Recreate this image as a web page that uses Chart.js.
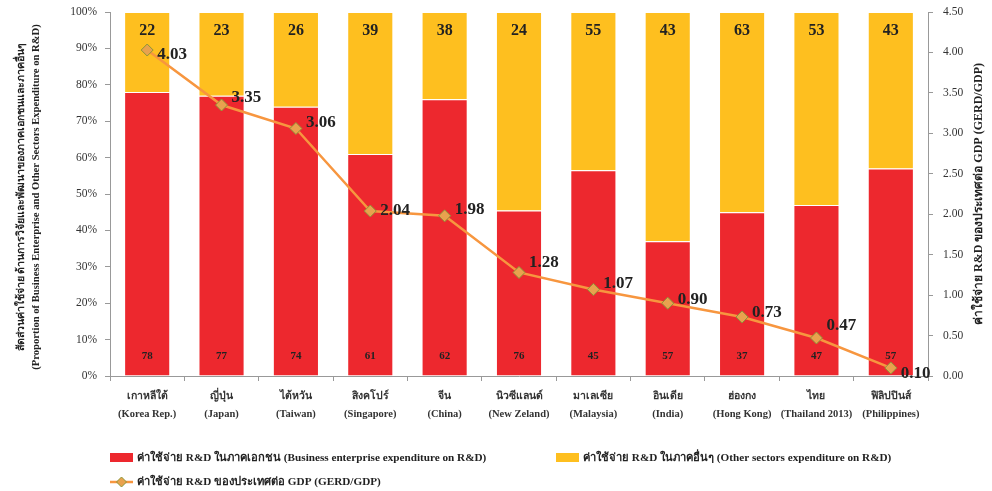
<!DOCTYPE html>
<html>
<head>
<meta charset="utf-8">
<script src="https://cdn.jsdelivr.net/npm/chart.js@4.4.1/dist/chart.umd.min.js"></script>
<style>
  html, body { margin: 0; padding: 0; background: #fff; }
  #wrap { width: 992px; height: 491px; position: relative; }
</style>
</head>
<body>
<div id="wrap"><canvas id="chart" width="992" height="491"></canvas></div>
<script>
// Countries (Thai name + English name on second line)
const countriesTh = ['เกาหลีใต้', 'ญี่ปุ่น', 'ไต้หวัน', 'สิงคโปร์', 'จีน', 'นิวซีแลนด์', 'มาเลเซีย', 'อินเดีย', 'ฮ่องกง', 'ไทย', 'ฟิลิปปินส์'];
const countriesEn = ['(Korea Rep.)', '(Japan)', '(Taiwan)', '(Singapore)', '(China)', '(New Zeland)', '(Malaysia)', '(India)', '(Hong Kong)', '(Thailand 2013)', '(Philippines)'];

// Share of R&D spending (%) - business enterprise vs other sectors
const businessShare = [78, 77, 74, 61, 76, 45.5, 56.5, 37, 45, 47, 57];
const otherShare = [22, 23, 26, 39, 24, 54.5, 43.5, 63, 55, 53, 43];

// Numbers printed on the bars
const businessLabels = [78, 77, 74, 61, 62, 76, 45, 57, 37, 47, 57];
const otherLabels = [22, 23, 26, 39, 38, 24, 55, 43, 63, 53, 43];

// GERD as % of GDP
const gerdGdp = [4.03, 3.35, 3.06, 2.04, 1.98, 1.28, 1.07, 0.90, 0.73, 0.47, 0.10];

// Axis ticks
const pctTicks = [0, 10, 20, 30, 40, 50, 60, 70, 80, 90, 100];
const gdpTicks = [0, 0.5, 1, 1.5, 2, 2.5, 3, 3.5, 4, 4.5];

const SERIF = "'Liberation Serif', 'Times New Roman', 'DejaVu Serif', serif";
const RED = '#ED282E';
const YELLOW = '#FEBF1F';
const ORANGE = '#F7963F';

const leftTitle = ['สัดส่วนค่าใช้จ่าย ด้านการวิจัยและพัฒนาของภาคเอกชนและภาคอื่นๆ',
  '(Proportion of Business Enterprise and Other Sectors Expenditure on R&D)'];
const rightTitle = 'ค่าใช้จ่าย R&D ของประเทศต่อ GDP (GERD/GDP)';
const legendItems = [
  { text: 'ค่าใช้จ่าย R&D ในภาคเอกชน (Business enterprise expenditure on R&D)', kind: 'box', color: RED, x: 110, y: 458 },
  { text: 'ค่าใช้จ่าย R&D ในภาคอื่นๆ (Other sectors expenditure on R&D)', kind: 'box', color: YELLOW, x: 556, y: 458 },
  { text: 'ค่าใช้จ่าย R&D ของประเทศต่อ GDP (GERD/GDP)', kind: 'line', color: ORANGE, x: 110, y: 482 }
];

// small vertical nudges for the GERD value labels
const gerdLabelNudge = [5, -7, -6, 0, -6, -10, -6, -4, -4, -12, 6];

function diamond(ctx, x, y, r) {
  ctx.beginPath();
  ctx.moveTo(x, y - r);
  ctx.lineTo(x + r, y);
  ctx.lineTo(x, y + r);
  ctx.lineTo(x - r, y);
  ctx.closePath();
  ctx.fill();
  ctx.stroke();
}

// vertical axes: fixed width, no extra room above/below the plot
function fixVertical(width) {
  return scale => {
    scale.width = width;
    scale.paddingTop = 0;
    scale.paddingBottom = 0;
  };
}

// Value labels, axis titles and legend
const decorations = {
  id: 'decorations',
  afterDatasetsDraw(chart) {
    const ctx = chart.ctx;
    ctx.save();
    ctx.fillStyle = '#222';
    ctx.textAlign = 'center';
    ctx.textBaseline = 'middle';

    chart.getDatasetMeta(0).data.forEach((bar, i) => {
      ctx.font = 'bold 11px ' + SERIF;
      ctx.fillText(businessLabels[i], bar.x, bar.base - 19);
    });
    chart.getDatasetMeta(1).data.forEach((bar, i) => {
      ctx.font = 'bold 16px ' + SERIF;
      ctx.fillText(otherLabels[i], bar.x, bar.y + 19);
    });
    ctx.textAlign = 'left';
    chart.getDatasetMeta(2).data.forEach((pt, i) => {
      ctx.font = 'bold 17px ' + SERIF;
      ctx.fillText(gerdGdp[i].toFixed(2), pt.x + 10, pt.y + gerdLabelNudge[i]);
    });
    ctx.restore();
  },
  afterDraw(chart) {
    const ctx = chart.ctx;
    const area = chart.chartArea;
    const midY = (area.top + area.bottom) / 2;
    ctx.save();
    ctx.fillStyle = '#222';
    ctx.textAlign = 'center';
    ctx.textBaseline = 'middle';

    // left axis title, two lines reading bottom to top
    ctx.save();
    ctx.translate(21, midY + 3);
    ctx.rotate(-Math.PI / 2);
    ctx.font = 'bold 10.6px ' + SERIF;
    ctx.fillText(leftTitle[0], 0, 0);
    ctx.fillText(leftTitle[1], 0, 15);
    ctx.restore();

    // right axis title
    ctx.save();
    ctx.translate(979, midY);
    ctx.rotate(-Math.PI / 2);
    ctx.font = 'bold 12px ' + SERIF;
    ctx.fillText(rightTitle, 0, 0);
    ctx.restore();

    // legend
    ctx.textAlign = 'left';
    ctx.font = 'bold 11.2px ' + SERIF;
    legendItems.forEach(item => {
      if (item.kind === 'box') {
        ctx.fillStyle = item.color;
        ctx.fillRect(item.x, item.y - 5, 23, 9);
      } else {
        ctx.strokeStyle = item.color;
        ctx.lineWidth = 2.5;
        ctx.beginPath();
        ctx.moveTo(item.x, item.y);
        ctx.lineTo(item.x + 23, item.y);
        ctx.stroke();
        ctx.fillStyle = '#E9A24E';
        ctx.strokeStyle = '#8A9638';
        ctx.lineWidth = 1;
        diamond(ctx, item.x + 11.5, item.y, 5);
      }
      ctx.fillStyle = '#222';
      ctx.fillText(item.text, item.x + 27, item.y);
    });
    ctx.restore();
  }
};

new Chart(document.getElementById('chart'), {
  data: {
    labels: countriesTh.map((th, i) => [th, countriesEn[i]]),
    datasets: [{
      type: 'bar',
      label: 'Business enterprise',
      data: businessShare,
      backgroundColor: RED,
      borderColor: '#ffffff',
      borderWidth: 1,
      yAxisID: 'y',
      stack: 'share',
      order: 2
    }, {
      type: 'bar',
      label: 'Other sectors',
      data: otherShare,
      backgroundColor: YELLOW,
      borderColor: '#ffffff',
      borderWidth: 1,
      yAxisID: 'y',
      stack: 'share',
      order: 2
    }, {
      type: 'line',
      label: 'GERD/GDP',
      data: gerdGdp,
      borderColor: ORANGE,
      borderWidth: 2.5,
      pointStyle: 'rectRot',
      pointRadius: 6,
      pointBackgroundColor: '#E9A24E',
      pointBorderColor: '#8A9638',
      pointBorderWidth: 1,
      tension: 0,
      yAxisID: 'y1',
      order: 1
    }]
  },
  options: {
    responsive: false,
    animation: false,
    layout: { padding: { top: 12, left: 0, right: 0, bottom: 0 } },
    datasets: {
      bar: { categoryPercentage: 1, barPercentage: 0.62 }
    },
    plugins: {
      legend: { display: false },
      tooltip: { enabled: false }
    },
    scales: {
      x: {
        stacked: true,
        afterFit: scale => { scale.height = 115; },
        grid: {
          offset: true,
          drawOnChartArea: false,
          tickLength: 5,
          color: '#999'
        },
        border: { color: '#999' },
        ticks: {
          color: '#333',
          padding: 6,
          maxRotation: 0,
          autoSkip: false,
          font: { family: SERIF, size: 10.5, weight: 'bold', lineHeight: 1.75 }
        }
      },
      y: {
        stacked: true,
        position: 'left',
        min: 0,
        max: 100,
        afterFit: fixVertical(110),
        afterBuildTicks: scale => { scale.ticks = pctTicks.map(v => ({ value: v })); },
        grid: { drawOnChartArea: false, tickLength: 5, color: '#999' },
        border: { color: '#999' },
        ticks: {
          color: '#333',
          padding: 8,
          font: { family: SERIF, size: 11.5 },
          callback: v => v + '%'
        }
      },
      y1: {
        position: 'right',
        min: 0,
        max: 4.5,
        afterFit: fixVertical(64),
        afterBuildTicks: scale => { scale.ticks = gdpTicks.map(v => ({ value: v })); },
        grid: { drawOnChartArea: false, tickLength: 5, color: '#999' },
        border: { color: '#999' },
        ticks: {
          color: '#333',
          padding: 10,
          font: { family: SERIF, size: 11.5 },
          callback: v => v.toFixed(2)
        }
      }
    }
  },
  plugins: [decorations]
});
</script>
</body>
</html>
